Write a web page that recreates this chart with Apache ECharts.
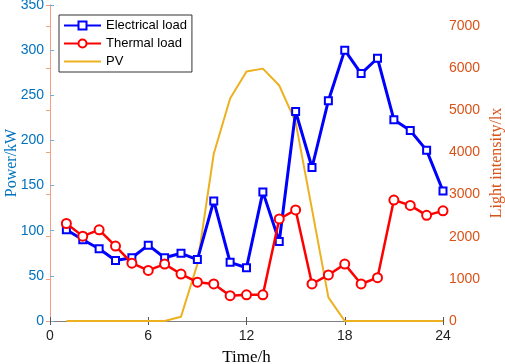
<!DOCTYPE html>
<html>
<head>
<meta charset="utf-8">
<script src="https://cdn.jsdelivr.net/npm/echarts@6/dist/echarts.min.js"></script>
<style>
  html, body { margin: 0; padding: 0; background: #fff; }
  #chart { width: 505px; height: 364px; }
</style>
</head>
<body>
<div id="chart"></div>
<script>
// hours 1..24
const hours = [1, 2, 3, 4, 5, 6, 7, 8, 9, 10, 11, 12, 13, 14, 15, 16, 17, 18, 19, 20, 21, 22, 23, 24]
// Power/kW
const electricalLoad = [101, 90, 80, 67, 70, 84, 70, 75, 68, 133, 65, 59, 143, 88, 232, 170, 244, 300, 274, 291, 223, 211, 189, 144]
const thermalLoad = [108, 94, 101, 83, 64, 56, 63, 52, 43, 41, 28, 29, 29, 113, 123, 41, 51, 63, 41, 48, 134, 128, 117, 122]
// Light intensity/lx
const pv = [0, 0, 0, 0, 0, 0, 0, 100, 1350, 3970, 5280, 5920, 5990, 5590, 4720, 2650, 560, 0, 0, 0, 0, 0, 0, 0]

const xTicks = [0, 6, 12, 18, 24]

const chart = echarts.init(document.getElementById("chart"))

const pairs = (vals) => hours.map((h, i) => [h, vals[i]])

const option = {
  animation: false,
  grid: { left: 50, right: 62, top: 5, bottom: 43, outerBoundsMode: "none", containLabel: false },
  legend: {
    orient: "vertical",
    left: 59,
    top: 15,
    padding: [4, 5, 4, 4],
    itemWidth: 37,
    itemHeight: 10,
    itemGap: 5,
    backgroundColor: "#fff",
    borderColor: "#333",
    borderWidth: 1,
    borderRadius: 0,
    textStyle: { fontFamily: "Liberation Sans", fontSize: 13, color: "#000" },
    data: ["Electrical load", "Thermal load", { name: "PV", itemStyle: { opacity: 0 } }]
  },
  xAxis: [
    {
      type: "value",
      min: xTicks[0],
      max: xTicks[xTicks.length - 1],
      interval: 6,
      name: "Time/h",
      nameLocation: "middle",
      nameGap: 28,
      nameMoveOverlap: false,
      nameTextStyle: { fontFamily: "Liberation Serif", fontSize: 17, color: "#000" },
      axisLine: { lineStyle: { color: "#808080", width: 1 } },
      axisTick: { inside: true, length: 4, lineStyle: { color: "#555" } },
      axisLabel: { fontFamily: "Liberation Sans", fontSize: 14, color: "#222", margin: 8 },
      splitLine: { show: false }
    },
    {
      type: "value",
      position: "top",
      min: xTicks[0],
      max: xTicks[xTicks.length - 1],
      interval: 6,
      axisLine: { lineStyle: { color: "#808080", width: 1 } },
      axisTick: { inside: true, length: 4, lineStyle: { color: "#555" } },
      axisLabel: { show: false },
      splitLine: { show: false }
    }
  ],
  yAxis: [
    {
      type: "value",
      min: 0,
      max: 350,
      interval: 50,
      name: "Power/kW",
      nameLocation: "middle",
      nameGap: 30,
      nameMoveOverlap: false,
      nameTextStyle: { fontFamily: "Liberation Serif", fontSize: 16, color: "#0072BD" },
      axisLine: { show: true, lineStyle: { color: "#6AAEDD", width: 1 } },
      axisTick: { show: true, inside: true, length: 4, lineStyle: { color: "#6AAEDD" } },
      axisLabel: { fontFamily: "Liberation Sans", fontSize: 14, color: "#0072BD", margin: 6 },
      splitLine: { show: false }
    },
    {
      type: "value",
      position: "right",
      min: 0,
      max: 7500,
      interval: 1000,
      name: "Light intensity/lx",
      nameLocation: "middle",
      nameRotate: 90,
      nameGap: 46,
      nameMoveOverlap: false,
      nameTextStyle: { fontFamily: "Liberation Serif", fontSize: 16, color: "#D95319" },
      axisLine: { show: true, lineStyle: { color: "#F0A080", width: 1 } },
      axisTick: { show: true, inside: true, length: 4, lineStyle: { color: "#F0A080" } },
      axisLabel: {
        fontFamily: "Liberation Sans", fontSize: 14, color: "#D95319", margin: 6,
        formatter: (v) => (v > 7000 ? "" : String(v))
      },
      splitLine: { show: false }
    }
  ],
  series: [
    {
      name: "PV",
      type: "line",
      yAxisIndex: 1,
      data: pairs(pv),
      showSymbol: false,
      symbol: "none",
      lineStyle: { color: "#EDB120", width: 2 },
      itemStyle: { color: "#EDB120" },
      z: 2
    },
    {
      name: "Electrical load",
      type: "line",
      data: pairs(electricalLoad),
      symbol: "emptyRect",
      symbolSize: 7,
      lineStyle: { color: "#0000FF", width: 3 },
      itemStyle: { color: "#0000FF", borderColor: "#0000FF", borderWidth: 2 },
      z: 3
    },
    {
      name: "Thermal load",
      type: "line",
      data: pairs(thermalLoad),
      symbol: "emptyCircle",
      symbolSize: 9,
      lineStyle: { color: "#FF0000", width: 2.5 },
      itemStyle: { color: "#FF0000", borderColor: "#FF0000", borderWidth: 2 },
      z: 4
    }
  ]
}

chart.setOption(option)
</script>
</body>
</html>
